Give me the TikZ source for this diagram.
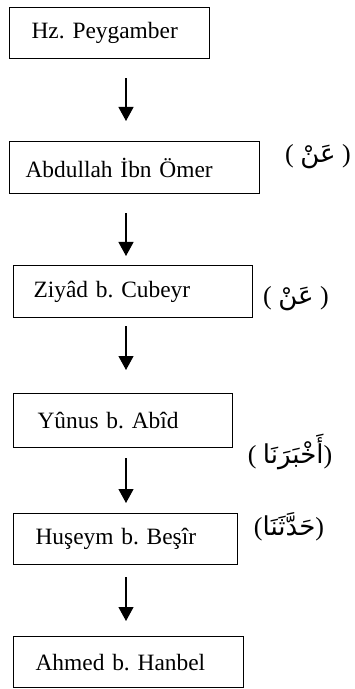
\documentclass[tikz,border=0pt]{standalone}
\usepackage{fontspec}
\setmainfont{Liberation Serif}
\newfontfamily\arabicfont[Script=Arabic]{DejaVu Sans}
\TeXXeTstate=1
\frenchspacing
\usetikzlibrary{arrows.meta, positioning}

\begin{document}
\begin{tikzpicture}[x=0.5pt, y=-0.5pt,
    font=\fontsize{11.7}{14}\selectfont,
    ravi/.style={draw, line width=0.6pt, anchor=north west, align=left, inner ysep=0pt},
    sigha/.style={font=\fontsize{13}{15}\selectfont},
    isnad/.style 2 args={line width=0.6pt, -{Triangle[width=7.5pt,length=7pt]},
      shorten <=#1, shorten >=#2}]
  \useasboundingbox (0,0) rectangle (354,689);
  \coordinate (ax) at (126,0);

  % narrators
  \node[ravi, minimum height=25.5pt, inner xsep=11pt, text width=78pt]  (hz)  at (9,7)    {Hz. Peygamber};
  \node[ravi, minimum height=26pt,   inner xsep=8pt,  text width=109pt] (ibn) at (9,141)  {Abdullah İbn Ömer};
  \node[ravi, minimum height=26pt,   inner xsep=10pt, text width=99.5pt] (ziy) at (13,265) {Ziyâd b. Cubeyr};
  \node[ravi, minimum height=27pt,   inner xsep=12pt, text width=85.5pt] (yun) at (13,393) {Yûnus b. Abîd};
  \node[ravi, minimum height=25.5pt, inner xsep=11pt, text width=90pt]  (hus) at (13,513) {Huşeym b. Beşîr};
  \node[ravi, minimum height=25.5pt, inner xsep=11pt, text width=93pt]  (ahm) at (13,636) {Ahmed b. Hanbel};

  % transmission words
  \node[sigha] (s1) at (318,157) {( {\arabicfont\beginR عَنْ\endR} )};
  \node[sigha] (s2) at (296,299) {( {\arabicfont\beginR عَنْ\endR} )};
  \node[sigha] (s3) at (290,452) {( {\arabicfont\beginR أَخْبَرَنَا\endR})};
  \node[sigha] (s4) at (289,527) {({\arabicfont\beginR حَدَّثَنَا\endR})};

  \draw[isnad={9.5pt}{10pt}]  (hz.south -| ax)  -- (ibn.north -| ax);
  \draw[isnad={9.5pt}{4.5pt}] (ibn.south -| ax) -- (ziy.north -| ax);
  \draw[isnad={4pt}{11.5pt}]  (ziy.south -| ax) -- (yun.north -| ax);
  \draw[isnad={5pt}{5pt}]     (yun.south -| ax) -- (hus.north -| ax);
  \draw[isnad={6pt}{7.5pt}]   (hus.south -| ax) -- (ahm.north -| ax);
\end{tikzpicture}
\end{document}
